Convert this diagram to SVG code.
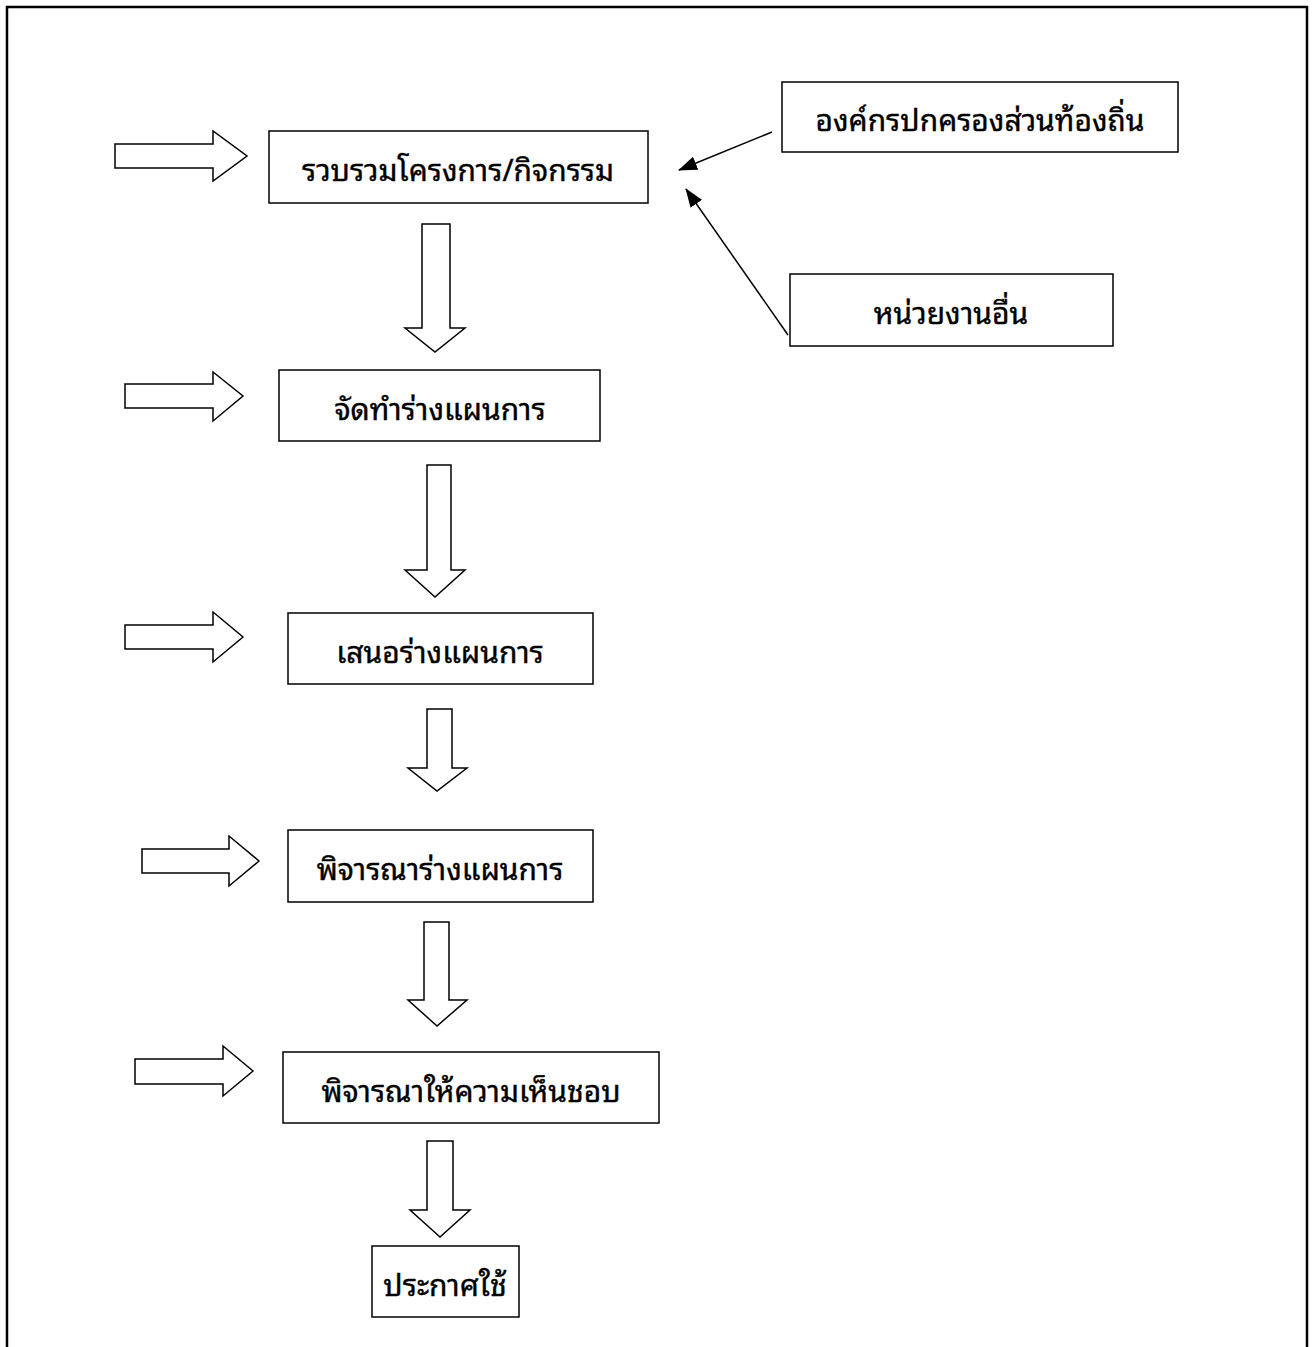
<svg xmlns="http://www.w3.org/2000/svg" width="1314" height="1347" viewBox="0 0 1314 1347">
<style>
.box{fill:#fff;stroke:#000;stroke-width:1.5}
.blk{fill:#fff;stroke:#000;stroke-width:1.5;stroke-linejoin:miter}
.t{font-family:"Noto Sans Thai Looped","Loma","Garuda","Tahoma","Noto Sans Thai","DejaVu Sans","Noto Sans",sans-serif;font-weight:normal;font-size:30px;fill:#000;stroke:#000;stroke-width:0.4;text-anchor:middle;dominant-baseline:central}
.ln{stroke:#000;stroke-width:1.5;fill:none}
</style>
<defs>
<marker id="ah" markerWidth="19" markerHeight="14" refX="18" refY="7" orient="auto" markerUnits="userSpaceOnUse">
<path d="M0,0 L19,7 L0,14 Z" fill="#000"/>
</marker>
</defs>
<rect x="0" y="0" width="1314" height="1347" fill="#fff"/>
<path d="M7,1347 V7 H1307 V1347" fill="none" stroke="#000" stroke-width="2.5"/>
<g id="connectors">
<path class="blk" d="M115,144 H213 V131 L247,156 L213,181 V168 H115 Z"/>
<path class="blk" d="M125,384 H213 V372 L243,396 L213,421 V408 H125 Z"/>
<path class="blk" d="M125,625 H213 V612 L243,637 L213,662 V649 H125 Z"/>
<path class="blk" d="M142,849 H229 V836 L259,861 L229,886 V873 H142 Z"/>
<path class="blk" d="M135,1059 H223 V1046 L253,1071 L223,1096 V1084 H135 Z"/>
<path class="blk" d="M422,224 H450 V328 H465 L435,352 L405,328 H422 Z"/>
<path class="blk" d="M427,465 H451 V570 H465 L435,597 L405,570 H427 Z"/>
<path class="blk" d="M427,709 H452 V768 H467 L437,791 L408,768 H427 Z"/>
<path class="blk" d="M424,922 H449 V1000 H467 L437,1026 L408,1000 H424 Z"/>
<path class="blk" d="M427,1141 H453 V1210 H470 L440,1237 L410,1210 H427 Z"/>
<line class="ln" x1="772" y1="132" x2="679" y2="170" marker-end="url(#ah)"/>
<line class="ln" x1="788" y1="335" x2="686" y2="189" marker-end="url(#ah)"/>
</g>
<g id="n1"><rect class="box" x="269" y="131" width="379" height="72"/><text class="t" x="458" y="167">รวบรวมโครงการ/กิจกรรม</text></g>
<g id="n2"><rect class="box" x="279" y="370" width="321" height="71"/><text class="t" x="440" y="406">จัดทำร่างแผนการ</text></g>
<g id="n3"><rect class="box" x="288" y="613" width="305" height="71"/><text class="t" x="440" y="649">เสนอร่างแผนการ</text></g>
<g id="n4"><rect class="box" x="288" y="830" width="305" height="72"/><text class="t" x="440" y="866">พิจารณาร่างแผนการ</text></g>
<g id="n5"><rect class="box" x="283" y="1052" width="376" height="71"/><text class="t" x="471" y="1088">พิจารณาให้ความเห็นชอบ</text></g>
<g id="n6"><rect class="box" x="372" y="1246" width="147" height="71"/><text class="t" x="445" y="1282">ประกาศใช้</text></g>
<g id="n7"><rect class="box" x="782" y="82" width="396" height="70"/><text class="t" x="980" y="117">องค์กรปกครองส่วนท้องถิ่น</text></g>
<g id="n8"><rect class="box" x="790" y="274" width="323" height="72"/><text class="t" x="951" y="310">หน่วยงานอื่น</text></g>
</svg>
